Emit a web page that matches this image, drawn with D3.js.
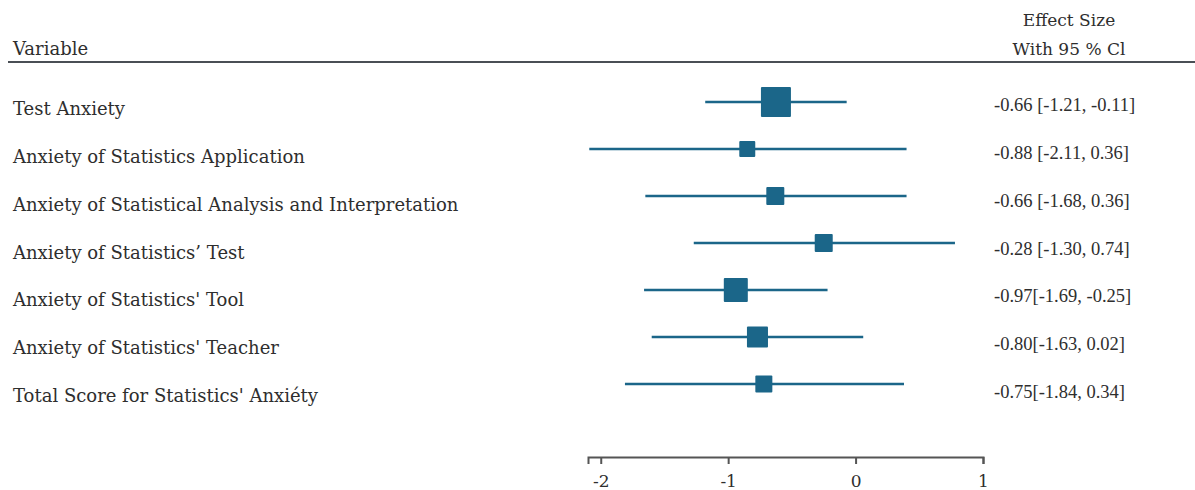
<!DOCTYPE html>
<html>
<head>
<meta charset="utf-8">
<title>forest plot</title>
<script src="https://cdn.jsdelivr.net/npm/d3@7"></script>
<style>
  body { margin: 0; background: #fff; }
  text { font-family: "DejaVu Serif", "Liberation Serif", serif; fill: #2e2e2e; }
  text.ci { font-family: "Liberation Serif", serif; }
</style>
</head>
<body>
<script>
// data
var variables = ["Test Anxiety", "Anxiety of Statistics Application",
  "Anxiety of Statistical Analysis and Interpretation", "Anxiety of Statistics\u2019 Test",
  "Anxiety of Statistics' Tool", "Anxiety of Statistics' Teacher",
  "Total Score for Statistics' Anxi\u00e9ty"];
var effect = [-0.625, -0.85, -0.63, -0.25, -0.94, -0.77, -0.72];
var lower = [-1.18, -2.09, -1.65, -1.27, -1.66, -1.60, -1.81];
var upper = [-0.07, 0.40, 0.40, 0.78, -0.22, 0.06, 0.38];
var weight = [28.9, 8.2, 10.4, 10.4, 18.5, 14.2, 9.3];
var ciLabels = ["-0.66 [-1.21, -0.11]", "-0.88 [-2.11, 0.36]", "-0.66 [-1.68, 0.36]",
  "-0.28 [-1.30, 0.74]", "-0.97[-1.69, -0.25]", "-0.80[-1.63, 0.02]", "-0.75[-1.84, 0.34]"];
var xTicks = [-2, -1, 0, 1];

var width = 1195, height = 490;
var markColor = "#1b6689";

var svg = d3.select("body").append("svg")
  .attr("width", width).attr("height", height);

var x = d3.scaleLinear().domain([-2.1, 1]).range([588, 983]);
var y = d3.scalePoint().domain(d3.range(variables.length)).range([102, 384]);
// text rows sit a little lower and spread a little wider than the marks
var yLeft = d3.scalePoint().domain(d3.range(variables.length)).range([115, 402]);
var yRight = d3.scalePoint().domain(d3.range(variables.length)).range([111, 398]);
var size = d3.scaleSqrt().domain([0, d3.max(weight)]).range([0, 30]);

// header
svg.append("text").attr("x", 13).attr("y", 55).attr("font-size", 18).text("Variable");
svg.append("text").attr("x", 1069).attr("y", 26).attr("font-size", 17)
  .attr("text-anchor", "middle").text("Effect Size");
svg.append("text").attr("x", 1069).attr("y", 55).attr("font-size", 17)
  .attr("text-anchor", "middle").text("With 95 % Cl");
svg.append("line").attr("x1", 8).attr("x2", width).attr("y1", 62).attr("y2", 62)
  .attr("stroke", "#4a4f55").attr("stroke-width", 2);

var rows = svg.selectAll("g.row")
  .data(variables)
  .enter().append("g")
  .attr("class", "row");

rows.append("text")
  .attr("x", 13).attr("y", function(d, i) { return yLeft(i); })
  .attr("font-size", 18)
  .text(function(d) { return d; });

rows.append("line")
  .attr("x1", function(d, i) { return x(lower[i]); })
  .attr("x2", function(d, i) { return x(upper[i]); })
  .attr("y1", function(d, i) { return y(i); })
  .attr("y2", function(d, i) { return y(i); })
  .attr("stroke", markColor).attr("stroke-width", 2.5);

rows.append("rect")
  .attr("x", function(d, i) { return x(effect[i]) - size(weight[i]) / 2; })
  .attr("y", function(d, i) { return y(i) - size(weight[i]) / 2; })
  .attr("width", function(d, i) { return size(weight[i]); })
  .attr("height", function(d, i) { return size(weight[i]); })
  .attr("rx", 1)
  .attr("fill", markColor);

rows.append("text")
  .attr("class", "ci")
  .attr("x", 994).attr("y", function(d, i) { return yRight(i); })
  .attr("font-size", 18.5)
  .text(function(d, i) { return ciLabels[i]; });

// axis
var axis = svg.append("g")
  .attr("transform", "translate(0,457)")
  .call(d3.axisBottom(x).tickValues(xTicks).tickSizeOuter(0).tickSize(7).tickPadding(11)
    .tickFormat(function(d) { return String(d); }));
axis.select(".domain").attr("stroke", "#555").attr("stroke-width", 2);
axis.selectAll(".tick line").attr("stroke", "#555").attr("stroke-width", 2);
axis.selectAll(".tick text").attr("font-size", 17).attr("fill", "#2e2e2e");
</script>
</body>
</html>
